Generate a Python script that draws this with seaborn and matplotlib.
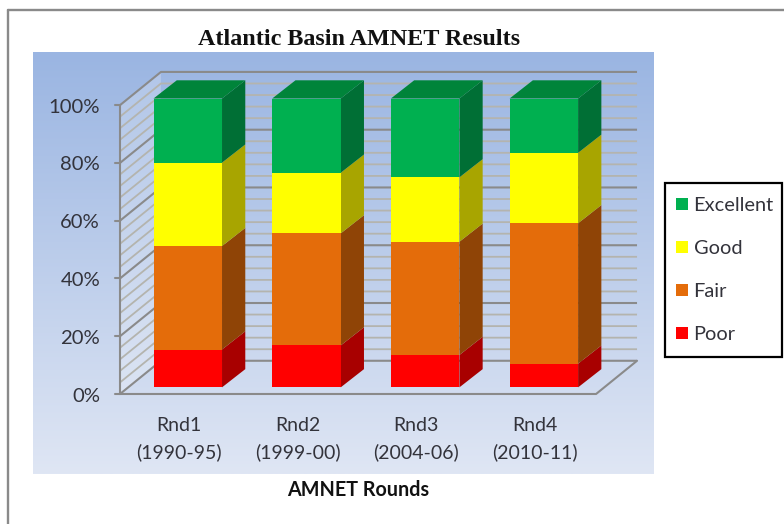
"""Atlantic Basin AMNET results, stacked 100% bars with a drawn 3D look."""

import numpy as np
import pandas as pd
import matplotlib
matplotlib.use("Agg")
import matplotlib.pyplot as plt
import seaborn as sns
from matplotlib.lines import Line2D
from matplotlib.patches import Patch, Polygon, Rectangle

rounds = ["Rnd1\n(1990-95)", "Rnd2\n(1999-00)", "Rnd3\n(2004-06)", "Rnd4\n(2010-11)"]
ratings = ["Poor", "Fair", "Good", "Excellent"]
poor = [13.1, 14.5, 11.2, 8.2]
fair = [35.8, 38.8, 39.2, 48.6]
good = [28.9, 21.0, 22.3, 24.4]
excellent = [22.2, 25.7, 27.3, 18.8]
y_ticks = [0, 20, 40, 60, 80, 100]

front_colors = ["#FF0000", "#E46C0A", "#FFFF00", "#00B050"]
side_colors = ["#A80000", "#8F4406", "#A8A500", "#006F35"]
top_color = "#00843A"

# depth of the bars and of the chart box, in data units
BAR_W = 0.577
BAR_DX, BAR_DY = 0.196, 6.3
WALL_DX, WALL_DY = 0.345, 11.5
WALL_X, WALL_X_END, FLOOR_Y = -0.571, 3.44, -2.3

sns.set_theme(style="white")
plt.rcParams["font.family"] = ["Lato", "DejaVu Sans"]

fig = plt.figure(figsize=(7.84, 5.24), dpi=100)
ax = fig.add_axes([33 / 784, 1 - 474 / 524, 621 / 784, 422 / 524])

# I build the stack as cumulative heights and paint the tallest first
values = np.array([poor, fair, good, excellent])
tops = values.cumsum(axis=0)
bottoms = tops - values
df = pd.DataFrame({
    "round": rounds * len(ratings),
    "rating": np.repeat(ratings, len(rounds)),
    "top": tops.ravel(),
})

# background gradient of the plot panel
ax.imshow(np.linspace(0, 1, 256).reshape(-1, 1), extent=(0, 1, 0, 1),
          transform=ax.transAxes, aspect="auto", zorder=-5,
          cmap=matplotlib.colors.LinearSegmentedColormap.from_list(
              "panel", ["#9AB5E2", "#DFE6F4"]))

# back wall, side wall and floor
back_left = WALL_X + WALL_DX
back_right = WALL_X_END + WALL_DX
ax.add_patch(Polygon([(WALL_X, FLOOR_Y), (back_left, FLOOR_Y + WALL_DY),
                      (back_left, FLOOR_Y + 100 + WALL_DY), (WALL_X, FLOOR_Y + 100)],
                     facecolor="white", alpha=0.22, edgecolor="none", zorder=0))
for level in range(0, 101, 4):
    major = level % 20 == 0
    color = "#8A8A8A" if major else "#B4B4AE"
    lw = 1.5 if major else 1.3
    y = FLOOR_Y + level
    ax.plot([WALL_X, back_left, back_right], [y, y + WALL_DY, y + WALL_DY],
            color=color, lw=lw, zorder=1, solid_capstyle="butt")
ax.plot([WALL_X, WALL_X], [FLOOR_Y, FLOOR_Y + 100], color="#8A8A8A", lw=1.5, zorder=1)
ax.plot([WALL_X, WALL_X_END, back_right], [FLOOR_Y, FLOOR_Y, FLOOR_Y + WALL_DY],
        color="#8A8A8A", lw=1.5, zorder=1)

# front faces
for i in range(len(ratings) - 1, -1, -1):
    sns.barplot(data=df[df["rating"] == ratings[i]], x="round", y="top", order=rounds,
                color=front_colors[i], saturation=1, width=BAR_W, ax=ax, zorder=3,
                linewidth=0, edgecolor="none")

# side and top faces
for b in range(len(rounds)):
    left, right = b - BAR_W / 2, b + BAR_W / 2
    for i in range(len(ratings)):
        lo, hi = bottoms[i, b], tops[i, b]
        ax.add_patch(Polygon([(right, lo), (right + BAR_DX, lo + BAR_DY),
                              (right + BAR_DX, hi + BAR_DY), (right, hi)],
                             facecolor=side_colors[i], edgecolor="none", zorder=2))
    h = tops[-1, b]
    ax.add_patch(Polygon([(left, h), (left + BAR_DX, h + BAR_DY),
                          (right + BAR_DX, h + BAR_DY), (right, h)],
                         facecolor=top_color, edgecolor="none", zorder=2))

# tick marks and labels sit on the front edge of the box
for t in y_ticks:
    y = FLOOR_Y + t
    ax.plot([WALL_X - 0.042, WALL_X], [y, y], color="#8A8A8A", lw=1.5, zorder=1)
    ax.text(WALL_X - 0.168, y - 0.7, f"{t}%", ha="right", va="center",
            fontsize=14.6, color="#33333B")
for b, label in enumerate(rounds):
    ax.text(b - 0.074, -18.0, label, ha="center", va="center", fontsize=14,
            color="#33333B", linespacing=1.62)

ax.set_xlim(-1.304, 3.928)
ax.set_ylim(-30, 116.1)
ax.set_axis_off()

ax.set_title("Atlantic Basin AMNET Results", family="Liberation Serif", weight="bold",
             fontsize=17.4, color="#111111", pad=5, x=0.525)
ax.text(0.523, -0.038, "AMNET Rounds", transform=ax.transAxes, ha="center", va="center",
        weight="bold", fontsize=14.2, color="#111111")

# the legend box is drawn by hand, the legend's own frame comes out too wide
fig.add_artist(Rectangle((665 / 784, 1 - 357 / 524), 117 / 784, 174 / 524,
                         transform=fig.transFigure, facecolor="white",
                         edgecolor="black", linewidth=1.6, zorder=2))
handles = [Patch(facecolor=c, edgecolor="none") for c in front_colors[::-1]]
legend = fig.legend(handles, ratings[::-1], loc="center left",
                    bbox_to_anchor=(665 / 784, 1 - 270 / 524), frameon=False,
                    fontsize=14.4, handlelength=0.6, handleheight=0.6,
                    handletextpad=0.28, labelspacing=1.3, borderpad=0.55,
                    borderaxespad=0, labelcolor="#33333B")
legend.set_zorder(3)

# outer frame of the chart, cut off by the image on the right and bottom
frame = dict(color="#8A8A8A", lw=1.7, transform=fig.transFigure)
fig.add_artist(Line2D([8 / 784, 8 / 784], [0, 1 - 10 / 524], **frame))
fig.add_artist(Line2D([8 / 784, 1], [1 - 10 / 524, 1 - 10 / 524], **frame))

fig.savefig("out.png", dpi=100)
